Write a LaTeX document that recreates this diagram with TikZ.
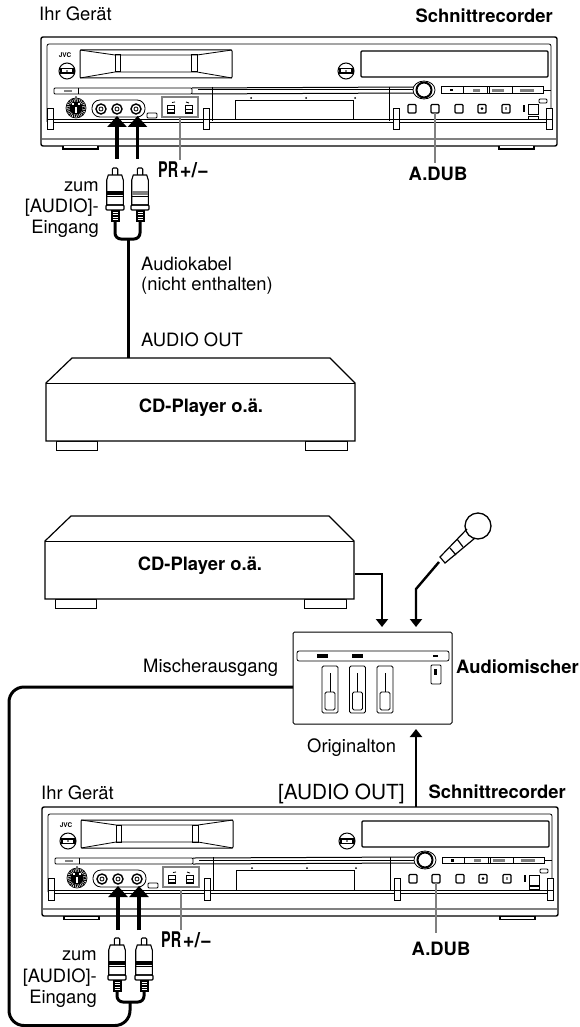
\documentclass[tikz,border=0pt]{standalone}
\usepackage{fontspec}
\setmainfont{TeX Gyre Heros}
\usepackage{graphicx}
\usetikzlibrary{arrows.meta,calc,positioning}
\definecolor{markgray}{gray}{0.5}
\tikzset{
    thinline/.style={line width=0.8pt},
    label/.style={inner sep=0pt,font=\fontsize{18.4}{21}\selectfont},
    boldlabel/.style={label,font=\fontsize{18.4}{21}\selectfont\bfseries},
    prlabel/.style={inner sep=0pt,anchor=base},
    cable/.style={line width=3pt},
    feedline/.style={line width=2.4pt,-{Triangle[width=12pt,length=8pt]}},
    plugarrow/.style={line width=3.2pt,-{Triangle[width=19pt,length=11pt]}},
    marker/.style={line width=2.3pt,markgray},
    pics/plug/.style={code={
        \fill[white] (-9,0) rectangle (9,55);
        \draw[line width=1.1pt,rounded corners=1pt] (-2.7,8) -- (-2.7,1) -- (2.7,1) -- (2.7,8);
        \draw[line width=1.1pt] (-6.7,8) -- (6.7,8) -- (8.3,13) -- (8.3,38) -- (-8.3,38) -- (-8.3,13) -- cycle;
        \fill[#1] (-8.3,24) rectangle (8.3,27.5);
        \draw[line width=1.1pt] (-8.3,29.5) -- (8.3,29.5);
        \draw[line width=1.1pt,rounded corners=1pt] (-9,38) rectangle (9,43);
        \fill (-4.5,43) rectangle (4.5,55);
        \foreach \k in {45,47.5,50,52.5} \draw[white,line width=0.7pt] (-2.5,\k) -- (2.5,\k);
    }},
    pics/player/.style={code={
        \draw[line width=0.9pt,fill=white] (56,441) rectangle (97,450);
        \draw[line width=0.9pt,fill=white] (305,441) rectangle (347,450);
        \draw[line width=1.2pt,fill=white] (46,383) -- (72,358) -- (330,358) -- (355,383) -- (355,441) -- (46,441) -- cycle;
        \draw[thinline] (46,383) -- (355,383);
    }},
    pics/recorder/.style={code={
        % case
        \draw[line width=1.4pt,rounded corners=2pt] (41,37) rectangle (557,146);
        \draw[thinline,rounded corners=2pt] (47,122) -- (47,44) -- (551,44) -- (551,122);
        \draw[line width=1pt] (47,120) -- (551,120);
        \draw[line width=1pt] (47,123) -- (551,123);
        \draw[line width=1.6pt,markgray] (42,139) -- (556,139);
        \fill (62,146) rectangle (99,150);
        \fill[white] (64,146.5) rectangle (97,148.5);
        \fill (498,146) rectangle (535,150);
        \fill[white] (500,146.5) rectangle (533,148.5);
        % tape flap
        \draw[line width=1pt,rounded corners=1pt] (80,50) rectangle (232,78);
        \draw[thinline] (80,50) -- (115,55) -- (197,55) -- (232,50);
        \draw[thinline] (80,78) -- (115,72) -- (197,72) -- (232,78);
        \draw[line width=1pt] (115,55) rectangle (120,72);
        \draw[line width=1pt] (191,55) rectangle (197,72);
        \node[inner sep=0pt,font=\fontsize{6.5}{7}\selectfont\bfseries] (jvc) at (65,55) {JVC};
        % eject buttons
        \foreach \x in {67,346} {
            \draw[line width=1pt] (\x,71) circle (8);
            \fill (\x-7.5,68) rectangle (\x+7.5,74);
            \fill[white] (\x-5,69.5) rectangle (\x+5,72.5);
            \fill (\x,71) circle (0.8);
        }
        % display
        \draw[line width=1.1pt,rounded corners=1pt] (361,51) rectangle (548,77);
        % long strip
        \draw[thinline,rounded corners=1pt] (54,88) rectangle (192,94);
        \draw[thinline] (78,88) -- (78,94);
        \fill[gray] (64,90) rectangle (72,92);
        \draw[line width=1pt] (192,88) -- (414,87);
        \draw[line width=1pt] (198,90) -- (414,90);
        \draw[line width=1pt] (192,94) -- (414,93);
        \draw[thinline] (212,87) -- (212,121);
        \draw[thinline] (389,87) -- (389,121);
        % jog and transport
        \draw[line width=1pt] (441,87) -- (543,87) -- (543,93.5) -- (441,93.5) -- cycle;
        \draw[line width=0.8pt] (543,90) -- (551,90);
        \foreach \x in {463,487,489,512} \draw[thinline] (\x,87) -- (\x,93.5);
        \fill (450,89) rectangle (452.5,91.5);
        \fill[gray] (473,89) rectangle (480,92);
        \fill[gray] (492,89) rectangle (504,92);
        \fill[gray] (520,89) rectangle (534,92);
        \draw[line width=0.8pt,fill=white] (424,90) ellipse (11 and 9);
        \draw[line width=2pt,fill=white] (424,90) circle (7.5);
        % drawer
        \draw[thinline] (235,120) -- (235,100) -- (353,100) -- (353,120);
        \foreach \x in {251,306,355} \fill (\x,98) circle (1);
        % small buttons
        \foreach \x in {412,435,459,482,506}
            \draw[line width=1.2pt,rounded corners=1pt] (\x-4,104.5) rectangle (\x+4,113);
        \fill (482,108.7) circle (1.5);
        \fill[gray] (505,107) rectangle (507,110);
        \fill (523,105) rectangle (524.5,112);
        \draw[line width=1pt] (528,105) rectangle (538,115);
        \draw[thinline] (528,116) rectangle (538,119);
        \draw[thinline,rounded corners=1pt] (539,99) rectangle (547,103);
        % s-video and phono sockets
        \draw[line width=0.7pt] (76,108) circle (10);
        \draw[line width=3pt,dash pattern=on 1pt off 0.8pt] (76,108) circle (8);
        \fill (76,108) circle (6.5);
        \fill[white] (72,103) rectangle (74,105);
        \fill[white] (78,103) rectangle (80,105);
        \fill[white] (75,107) rectangle (77,113);
        \fill (76,97) circle (0.8);
        \draw[thinline,rounded corners=8pt] (92,100) rectangle (145,117);
        \foreach \x in {101,117,136} {
            \draw[line width=1.4pt] (\x,109) circle (5);
            \draw[thinline] (\x,109) circle (2);
        }
        \draw[thinline,rounded corners=1pt] (147,113) rectangle (157,118);
        % clips
        \foreach \x in {47,203,393,546} {
            \draw[thinline,fill=white] (\x,108) rectangle (\x+6,120);
            \draw[line width=1pt,fill=white] (\x,120) rectangle (\x+6,130);
        }
        % programme buttons
        \draw[line width=1.7pt,markgray] (162,97) rectangle (198,117);
        \foreach \x in {171,189} {
            \draw[line width=1.2pt] (\x-3.5,105.5) rectangle (\x+3.5,113);
            \draw[thinline] (\x-3.5,109.5) -- (\x+3.5,109.5);
        }
        \draw[thinline] (172,102.5) -- (175,102);
        \draw[thinline] (186,102) -- (189,103);
    }},
}
\newcommand{\prtext}{\bfseries\scalebox{0.72}[1.08]{\fontsize{20}{22}\selectfont PR}\,\scalebox{0.95}[1]{\fontsize{21}{22}\selectfont +/−}}
\begin{document}
\begin{tikzpicture}[x=1pt,y=-1pt]
    \useasboundingbox (0,0) rectangle (579,1027);
    % upper set-up
    \pic at (0,0) {recorder};
    \node[label,anchor=base west] (deviceA) at (39,21) {Ihr Gerät};
    \node[boldlabel,anchor=base east] (editA) at (553,23) {Schnittrecorder};
    \coordinate (jackA) at (117,116);
    \coordinate (jackB) at (137.5,116);
    \coordinate (prA) at (180,117);
    \coordinate (dubA) at (435,113);
    \node[prlabel] (prtextA) at (183.5,178) {\prtext};
    \node[boldlabel,anchor=base] (dubtextA) at (438,181) {A.DUB};
    \draw[marker] (prA) -- (180,160);
    \draw[marker] (dubA) -- (435,163);
    \draw[plugarrow] (117,159) -- (jackA);
    \draw[plugarrow] (137.5,159) -- (jackB);
    \draw[cable,rounded corners=6pt] (115,222) -- (115,239) -- (140,239) -- (140,222);
    \pic at (115,167) {plug=black};
    \pic at (140,167) {plug=markgray};
    \node[label,anchor=base east] (zumA) at (99,191) {zum};
    \node[label,anchor=base east] (inA) at (99,212) {[AUDIO]-};
    \node[label,anchor=base east] (einA) at (99,233) {Eingang};
    \node[label,anchor=base west] (kabelA) at (141,270) {Audiokabel};
    \node[label,anchor=base west] (kabelB) at (141,290) {(nicht enthalten)};
    \node[label,anchor=base west] (outA) at (141,346) {AUDIO OUT};
    \pic at (0,0) {player};
    \coordinate (playerAout) at (128,358);
    \draw[cable] (128,239) -- (playerAout);
    \node[boldlabel,anchor=base] (cdA) at (201,412) {CD-Player o.ä.};
    % lower set-up
    \pic at (-1,158) {player};
    \node[boldlabel,anchor=base] (cdB) at (200,570) {CD-Player o.ä.};
    \node[draw,line width=1pt,rounded corners=1.5pt,minimum width=159pt,minimum height=92pt,inner sep=0pt] (mixer) at (372.5,678) {};
    \draw[thinline,rounded corners=2pt] (297,651) rectangle (449,661);
    \fill (317,654) rectangle (328,657.5);
    \fill (352,654) rectangle (363,657.5);
    \fill (433,655) rectangle (438,656.5);
    \foreach \x in {330,357.5,385} {
        \draw[thinline,rounded corners=1.5pt] (\x-8,666) rectangle (\x+8,713);
        \draw[thinline] (\x,673) -- (\x,692);
        \draw[thinline,rounded corners=1.5pt] (\x-5,692) rectangle (\x+5,710);
    }
    \draw[thinline,rounded corners=1pt] (431,665) rectangle (441,684);
    \fill (434,669) rectangle (437,675);
    \node[boldlabel,anchor=base west] (mixname) at (456,673) {Audiomischer};
    \node[label,anchor=base west] (mixoutname) at (143,672) {Mischerausgang};
    \node[label,anchor=base west] (origname) at (307,752) {Originalton};
    % microphone
    \draw[line width=1.3pt] (478,526) circle (13);
    \draw[line width=1.2pt] (467,529) -- (440,557) -- (445,563) -- (475,538);
    \draw[line width=1.2pt] (457,539) -- (463,547);
    \draw[line width=1.2pt] (450,548) -- (456,555);
    \coordinate (micneck) at (439,562);
    \coordinate (cdBout) at (355,574);
    \coordinate (inCD) at (382,627);
    \coordinate (inMic) at (416,627);
    \coordinate (inRec) at (416,729);
    \coordinate (mixout) at (293,687);
    \draw[feedline] (cdBout) -- (382,574) -- (inCD);
    \draw[feedline] (micneck) -- (416,589) -- (inMic);
    \pic at (1,770) {recorder};
    \draw[feedline] (416,807) -- (inRec);
    \node[label,anchor=base west] (deviceB) at (41,799) {Ihr Gerät};
    \node[inner sep=0pt,font=\fontsize{20.8}{22}\selectfont,anchor=base west] (audioout) at (278,799) {[AUDIO OUT]};
    \node[boldlabel,anchor=base east] (editB) at (566,798) {Schnittrecorder};
    \coordinate (jackC) at (118,886);
    \coordinate (jackD) at (139,886);
    \draw[marker] (181,890) -- (181,930);
    \draw[marker] (436,883) -- (436,933);
    \node[prlabel] (prtextB) at (186.5,947) {\prtext};
    \node[boldlabel,anchor=base] (dubtextB) at (441,955) {A.DUB};
    \draw[plugarrow] (118,930) -- (jackC);
    \draw[plugarrow] (139,930) -- (jackD);
    \draw[cable,rounded corners=15pt] (mixout) -- (9,687) -- (9,1025.5) -- (130,1025.5) -- (130,1002);
    \draw[cable,rounded corners=6pt] (117,990) -- (117,1002) -- (144,1002) -- (144,990);
    \pic at (117,937) {plug=black};
    \pic at (144,937) {plug=black};
    \node[label,anchor=base east] (zumB) at (97,960) {zum};
    \node[label,anchor=base east] (inB) at (97,982) {[AUDIO]-};
    \node[label,anchor=base east] (einB) at (97,1003) {Eingang};
\end{tikzpicture}
\end{document}
